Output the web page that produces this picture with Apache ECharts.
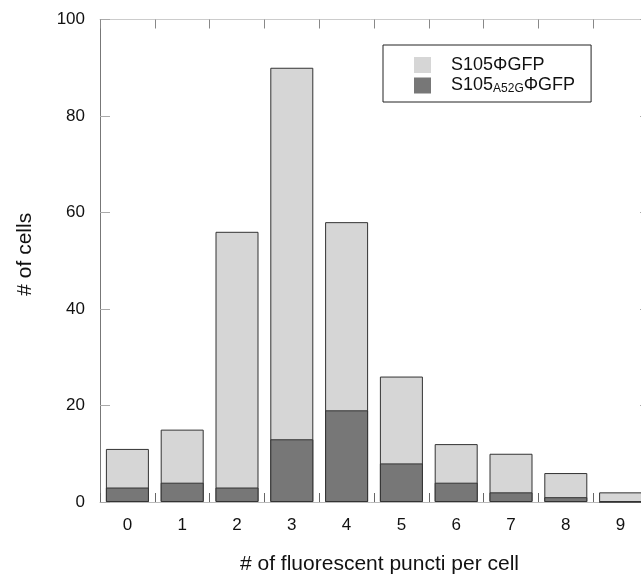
<!DOCTYPE html>
<html>
<head>
<meta charset="utf-8">
<script src="https://cdn.jsdelivr.net/npm/echarts@6/dist/echarts.min.js"></script>
<style>
  html, body { margin: 0; padding: 0; background: #fff; }
  #chart { width: 641px; height: 576px; }
</style>
</head>
<body>
<div id="chart"></div>
<script>
var categories = ['0', '1', '2', '3', '4', '5', '6', '7', '8', '9'];
var wildType = [11, 15, 56, 90, 58, 26, 12, 10, 6, 2];
var mutant = [3, 4, 3, 13, 19, 8, 4, 2, 1, 0];
var seriesNames = ['S105ΦGFP', 'S105A52GΦGFP'];

var font = 'Arial, "Liberation Sans", sans-serif';
var chart = echarts.init(document.getElementById('chart'));

chart.setOption({
    animation: false,
    backgroundColor: '#fff',
    textStyle: { fontFamily: font },
    grid: { left: 100, top: 19.5, width: 548, height: 482.5, outerBoundsMode: 'none' },
    legend: {
        orient: 'vertical',
        left: 383,
        top: 45,
        padding: [11, 16, 7, 31],
        itemWidth: 17,
        itemHeight: 16,
        itemGap: 2,
        icon: 'rect',
        borderColor: '#222',
        borderWidth: 1,
        backgroundColor: '#fff',
        selectedMode: false,
        data: [
            { name: seriesNames[0], itemStyle: { borderWidth: 0 } },
            { name: seriesNames[1], itemStyle: { borderWidth: 0 } }
        ],
        formatter: function (name) {
            if (name === seriesNames[1]) {
                return '{a|S105}{sub|A52G}{a|ΦGFP}';
            }
            return '{a|S105ΦGFP}';
        },
        textStyle: {
            padding: [0, 0, 0, 15],
            rich: {
                a: { fontSize: 18, color: '#111', fontFamily: font, lineHeight: 20 },
                sub: { fontSize: 12, color: '#111', fontFamily: font, lineHeight: 13, padding: [7, 0, 0, 0] }
            }
        }
    },
    xAxis: [{
        type: 'category',
        data: categories,
        name: '# of fluorescent puncti per cell',
        nameLocation: 'middle',
        nameGap: 52,
        nameTextStyle: { fontSize: 21, color: '#111', padding: [0, 0, 0, 11] },
        axisLine: { show: true, onZero: false, lineStyle: { color: '#bbb', width: 1 } },
        axisTick: { show: true, interval: 0, inside: true, length: 9, lineStyle: { color: '#666' } },
        axisLabel: { fontSize: 17, color: '#111', margin: 15 }
    }, {
        type: 'category',
        data: categories,
        position: 'top',
        axisLine: { show: true, onZero: false, lineStyle: { color: '#ccc', width: 1 } },
        axisTick: { show: true, interval: 0, inside: true, length: 9, lineStyle: { color: '#888' } },
        axisLabel: { show: false }
    }],
    yAxis: [{
        type: 'value',
        min: 0,
        max: 100,
        interval: 20,
        name: '# of cells',
        nameLocation: 'middle',
        nameGap: 64,
        nameTextStyle: { fontSize: 21, color: '#111', padding: [0, 0, 0, 13] },
        axisLine: { show: true, lineStyle: { color: '#777', width: 1 } },
        axisTick: { show: true, inside: true, length: 10, lineStyle: { color: '#aaa' } },
        axisLabel: { fontSize: 17, color: '#111', margin: 15 },
        splitLine: { show: false }
    }, {
        type: 'value',
        min: 0,
        max: 100,
        interval: 20,
        position: 'right',
        axisLine: { show: true, lineStyle: { color: '#999' } },
        axisTick: { show: true, inside: true, length: 8, lineStyle: { color: '#aaa' } },
        axisLabel: { show: false },
        splitLine: { show: false }
    }],
    series: [{
        name: seriesNames[0],
        type: 'bar',
        data: wildType,
        barWidth: 43,
        barGap: '-100%',
        itemStyle: { color: '#d6d6d6', borderColor: '#333', borderWidth: 1 }
    }, {
        name: seriesNames[1],
        type: 'bar',
        data: mutant,
        barWidth: 43,
        barGap: '-100%',
        itemStyle: { color: '#777777', borderColor: '#333', borderWidth: 1 }
    }]
});
</script>
</body>
</html>
